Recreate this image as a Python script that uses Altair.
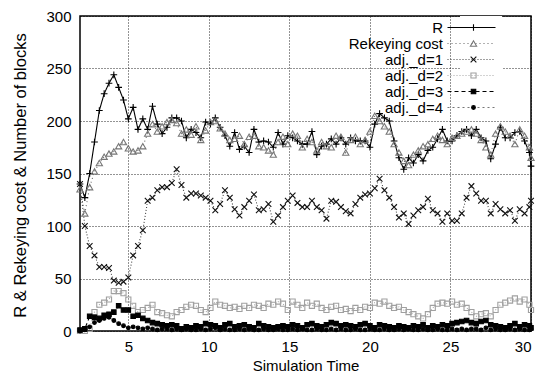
import altair as alt
import pandas as pd

time = [2.0, 2.3, 2.6, 2.9, 3.2, 3.5, 3.8, 4.1, 4.4, 4.7,
        5.0, 5.3, 5.6, 5.9, 6.2, 6.5, 6.8, 7.1, 7.4, 7.7,
        8.0, 8.3, 8.6, 8.9, 9.2, 9.5, 9.8, 10.1, 10.4, 10.7,
        11.0, 11.3, 11.6, 11.9, 12.2, 12.5, 12.8, 13.1, 13.4, 13.7,
        14.0, 14.3, 14.6, 14.9, 15.2, 15.5, 15.8, 16.1, 16.4, 16.7,
        17.0, 17.3, 17.6, 17.9, 18.2, 18.5, 18.8, 19.1, 19.4, 19.7,
        20.0, 20.3, 20.6, 20.9, 21.2, 21.5, 21.8, 22.1, 22.4, 22.7,
        23.0, 23.3, 23.6, 23.9, 24.2, 24.5, 24.8, 25.1, 25.4, 25.7,
        26.0, 26.3, 26.6, 26.9, 27.2, 27.5, 27.8, 28.1, 28.4, 28.7,
        29.0, 29.3, 29.6, 29.9, 30.0]

r_values = [140, 127, 150, 180, 210, 226, 236, 244, 232, 220,
            202, 213, 192, 202, 192, 214, 197, 188, 194, 203,
            203, 200, 184, 192, 189, 184, 199, 197, 203, 194,
            186, 176, 189, 173, 176, 170, 192, 180, 181, 180,
            175, 189, 178, 186, 184, 181, 178, 178, 190, 168,
            176, 178, 183, 178, 184, 178, 184, 181, 181, 181,
            175, 197, 207, 203, 200, 181, 165, 154, 165, 160,
            168, 162, 172, 175, 183, 192, 181, 181, 186, 190,
            192, 186, 192, 184, 181, 164, 178, 194, 184, 184,
            189, 190, 181, 170, 157]

rekeying = [135, 112, 137, 152, 160, 166, 169, 171, 176, 180,
            174, 171, 172, 176, 188, 197, 190, 195, 199, 201,
            198, 188, 192, 187, 195, 182, 191, 199, 200, 193,
            188, 182, 183, 186, 178, 185, 186, 176, 175, 172,
            168, 180, 185, 178, 188, 186, 175, 183, 180, 172,
            180, 176, 175, 186, 185, 170, 182, 185, 178, 182,
            190, 205, 200, 195, 190, 178, 170, 162, 158, 168,
            172, 176, 178, 183, 186, 182, 178, 184, 186, 188,
            190, 192, 188, 182, 175, 168, 188, 195, 190, 186,
            178, 192, 186, 175, 165]

adj_d1 = [140, 100, 81, 72, 61, 61, 60, 48, 46, 47,
          51, 72, 81, 96, 124, 127, 134, 137, 137, 141,
          154, 139, 127, 131, 131, 129, 127, 124, 115, 121,
          134, 127, 116, 110, 118, 124, 130, 115, 116, 121,
          104, 110, 118, 124, 129, 122, 118, 118, 124, 118,
          115, 107, 124, 123, 118, 114, 112, 121, 127, 130,
          131, 136, 145, 134, 127, 118, 108, 112, 102, 110,
          115, 118, 126, 115, 112, 104, 112, 105, 105, 112,
          127, 138, 131, 124, 124, 112, 121, 116, 112, 115,
          105, 116, 112, 118, 124]

adj_d2 = [0, 0, 2, 18, 25, 27, 30, 38, 38, 36,
          30, 24, 18, 20, 22, 25, 18, 17, 15, 14,
          18, 20, 23, 25, 24, 20, 18, 22, 28, 25,
          24, 22, 23, 21, 24, 22, 25, 24, 22, 26,
          25, 28, 26, 20, 28, 25, 22, 27, 24, 26,
          22, 20, 23, 24, 20, 21, 19, 22, 20, 23,
          22, 27, 26, 28, 24, 22, 23, 20, 18, 16,
          14, 12, 16, 22, 26, 27, 26, 28, 25, 26,
          22, 18, 14, 16, 17, 14, 20, 25, 27, 29,
          31, 28, 30, 25, 20]

adj_d3 = [1, 2, 14, 13, 12, 15, 16, 18, 24, 20,
          20, 14, 15, 12, 10, 8, 7, 6, 5, 6,
          5, 2, 4, 3, 5, 4, 7, 6, 5, 3,
          6, 7, 4, 5, 6, 4, 3, 7, 5, 4,
          3, 4, 5, 4, 6, 5, 3, 6, 7, 5,
          4, 6, 8, 7, 5, 6, 5, 4, 6, 7,
          5, 3, 6, 5, 4, 3, 5, 4, 3, 5,
          4, 6, 3, 5, 4, 6, 5, 7, 8, 9,
          10, 8, 7, 9, 10, 6, 5, 4, 3, 5,
          7, 4, 6, 5, 3]

adj_d4 = [0, 1, 4, 8, 10, 12, 13, 10, 7, 5,
          3, 4, 3, 2, 3, 2, 1, 2, 2, 1,
          2, 1, 2, 1, 1, 2, 1, 2, 3, 1,
          2, 1, 1, 2, 1, 2, 1, 1, 2, 1,
          1, 2, 1, 1, 2, 1, 2, 1, 1, 2,
          1, 1, 2, 1, 2, 1, 1, 2, 1, 1,
          2, 1, 1, 2, 1, 1, 2, 1, 2, 1,
          1, 2, 1, 1, 2, 1, 1, 2, 1, 2,
          1, 2, 2, 1, 3, 1, 2, 1, 1, 2,
          1, 2, 1, 1, 2]

names = ["R", "Rekeying cost", "adj._d=1", "adj._d=2", "adj._d=3", "adj._d=4"]
series_values = [r_values, rekeying, adj_d1, adj_d2, adj_d3, adj_d4]

x_ticks = [5, 10, 15, 20, 25, 30]
y_ticks = [0, 50, 100, 150, 200, 250, 300]

rows = []
for name, vals in zip(names, series_values):
    for t, v in zip(time, vals):
        rows.append({"time": t, "value": v, "series": name, "marker": name})
df = pd.DataFrame(rows)

FONT = "Liberation Sans"

x_enc = alt.X("time:Q", scale=alt.Scale(domain=[2, 30], nice=False, zero=False),
              axis=alt.Axis(values=x_ticks, title="Simulation Time", grid=True,
                            ticks=False, domain=False, labelPadding=8,
                            titleY=34, titleBaseline="middle"))
y_enc = alt.Y("value:Q", scale=alt.Scale(domain=[0, 300], nice=False),
              axis=alt.Axis(values=y_ticks, title="R & Rekeying cost & Number of blocks",
                            grid=True, ticks=False, domain=False, labelPadding=9,
                            titleX=-60, titleY=159, titleBaseline="middle",
                            titleFontSize=16.5))

line_colors = ["#000000", "#666666", "#444444", "#a8a8a8", "#000000", "#777777"]
dashes = [[1, 0], [1, 3], [1, 2], [1, 2], [4, 3], [2, 3]]

lines = alt.Chart(df).mark_line(strokeWidth=1.1).encode(
    x=x_enc, y=y_enc,
    color=alt.Color("series:N", scale=alt.Scale(domain=names, range=line_colors),
                    legend=alt.Legend(orient="none", legendX=380, legendY=0, title=None,
                                      symbolType="M-4,0H4", symbolSize=144,
                                      symbolStrokeWidth=1.2, labelAlign="right",
                                      labelOffset=alt.ExprRef(expr="-36"),
                                      labelFontSize=15, labelFont=FONT,
                                      labelColor="black", fillColor="white", padding=4,
                                      rowPadding=0)),
    strokeDash=alt.StrokeDash("series:N", scale=alt.Scale(domain=names, range=dashes)),
    detail="series:N",
)

# marker scales use the data-derived (alphabetical) domain, same order as names
shapes = ["M-1,0H1M0,-1V1", "triangle-up", "M-1,-1L1,1M-1,1L1,-1", "square", "square", "circle"]
fills = ["transparent", "transparent", "transparent", "transparent", "#000000", "#000000"]
strokes = ["#000000", "#777777", "#111111", "#a0a0a0", "#000000", "#000000"]
sizes = [45, 14, 40, 14, 22, 16]

points = alt.Chart(df).mark_point(filled=False, strokeWidth=1.1, opacity=1).encode(
    x="time:Q", y="value:Q",
    shape=alt.Shape("marker:N", scale=alt.Scale(range=shapes),
                    legend=alt.Legend(orient="none", legendX=382, legendY=0, title=None,
                                      labelOpacity=0, labelExpr="''", labelFontSize=15,
                                      labelFont=FONT, padding=4, rowPadding=0,
                                      symbolStrokeWidth=1.1)),
    fill=alt.Fill("marker:N", scale=alt.Scale(range=fills)),
    stroke=alt.Stroke("marker:N", scale=alt.Scale(range=strokes)),
    size=alt.Size("marker:N", scale=alt.Scale(range=sizes)),
)

chart = alt.layer(lines, points).properties(
    width=451, height=315,
    autosize=alt.AutoSizeParams(type="none"),
    padding={"left": 80, "top": 16, "right": 10, "bottom": 44},
    background="white",
).configure_view(
    stroke="black", strokeWidth=1.5
).configure_axis(
    labelFont=FONT, titleFont=FONT, labelFontSize=15, titleFontSize=15,
    titleFontWeight="normal", labelColor="black", titleColor="black",
    gridColor="black", gridDash=[1, 2], gridWidth=1, gridOpacity=0.85,
)

chart.save("out.html", embed_options={"renderer": "svg", "actions": False})
